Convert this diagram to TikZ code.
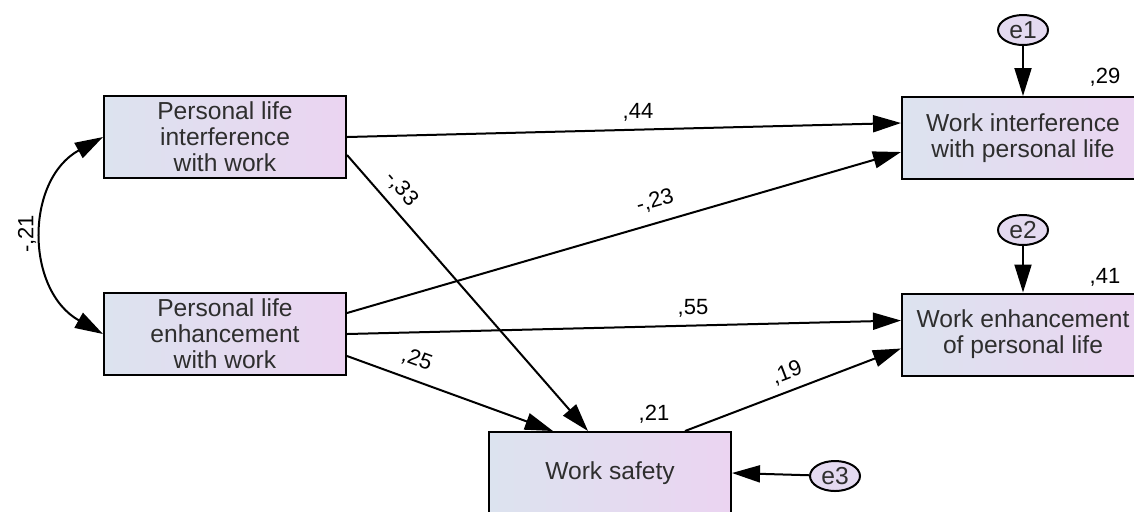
\documentclass[tikz,border=0pt]{standalone}
\usepackage{fontspec}
\setmainfont{Liberation Sans}
\usetikzlibrary{arrows.meta,shapes.geometric}
\definecolor{boxleft}{HTML}{DCE3EF}
\definecolor{boxright}{HTML}{EBD4F1}
\definecolor{errfill}{HTML}{E4DAF0}
\definecolor{txtgray}{HTML}{2E2E2E}
\begin{document}
\begin{tikzpicture}
[x=0.5pt, y=-0.5pt, line width=1pt,
       var/.style={draw, left color=boxleft, right color=boxright,
                   minimum width=121pt, minimum height=41pt, inner sep=0pt,
                   align=center, text=txtgray, font=\fontsize{12.3}{13}\selectfont},
       err/.style={draw, ellipse, fill=errfill, minimum width=25pt, minimum height=15pt,
                   inner sep=0pt, text=txtgray, font=\fontsize{12.3}{13}\selectfont},
       path/.style={-{Triangle[length=14pt,width=8.5pt]}},
       coef/.style={font=\fontsize{11}{12}\selectfont, inner sep=0pt}]
  \useasboundingbox (0,0) rectangle (1134,511);
  % observed variables
  \node[var] (plint) at (225,137) {Personal life\\interference\\with work};
  \node[var] (plenh) at (225,334) {Personal life\\enhancement\\with work};
  \node[var] (wint) at (1023,138) {Work interference\\with personal life};
  \node[var] (wenh) at (1023,334.5) {Work enhancement\\of personal life};
  \node[var] (safety) at (610,473) {Work safety};
  % error terms
  \node[err] (e1) at (1023,30) {e1};
  \node[err] (e2) at (1023,230) {e2};
  \node[err] (e3) at (835,476) {e3};
  % paths
  \draw[path] (plint.east) -- ([yshift=7.5pt]wint.west);
  \draw[path] ([yshift=-9pt]plint.east) -- ([xshift=-11pt]safety.north);
  \draw[path] ([yshift=10.5pt]plenh.east) -- ([yshift=-7pt]wint.west);
  \draw[path] (plenh.east) -- ([yshift=7pt]wenh.west);
  \draw[path] ([yshift=-11pt]plenh.east) -- ([xshift=-28.5pt]safety.north);
  \draw[path] ([xshift=37.5pt]safety.north) -- ([yshift=-7pt]wenh.west);
  \draw[path] (e1) -- (wint.north);
  \draw[path] (e2) -- (wenh.north);
  \draw[path] (e3) -- (safety.east);
  \draw[{Triangle[length=14pt,width=8.5pt]}-{Triangle[length=14pt,width=8.5pt]}]
    (plint.west) .. controls (25,180) and (25,290) .. (plenh.west);
  % coefficients
  \node[coef] (c44) at (638,112) {,44};
  \node[coef, rotate=-49] (c33) at (402,189) {-,33};
  \node[coef, rotate=16] (c23) at (655,201) {-,23};
  \node[coef] (c55) at (693,308) {,55};
  \node[coef, rotate=-20] (c25) at (417,360) {,25};
  \node[coef, rotate=21] (c19) at (787,373) {,19};
  \node[coef] (c21) at (654,414) {,21};
  \node[coef] (c29) at (1105,77) {,29};
  \node[coef] (c41) at (1105,277) {,41};
  \node[coef, rotate=90] (cov) at (27,234) {-,21};
\end{tikzpicture}
\end{document}
